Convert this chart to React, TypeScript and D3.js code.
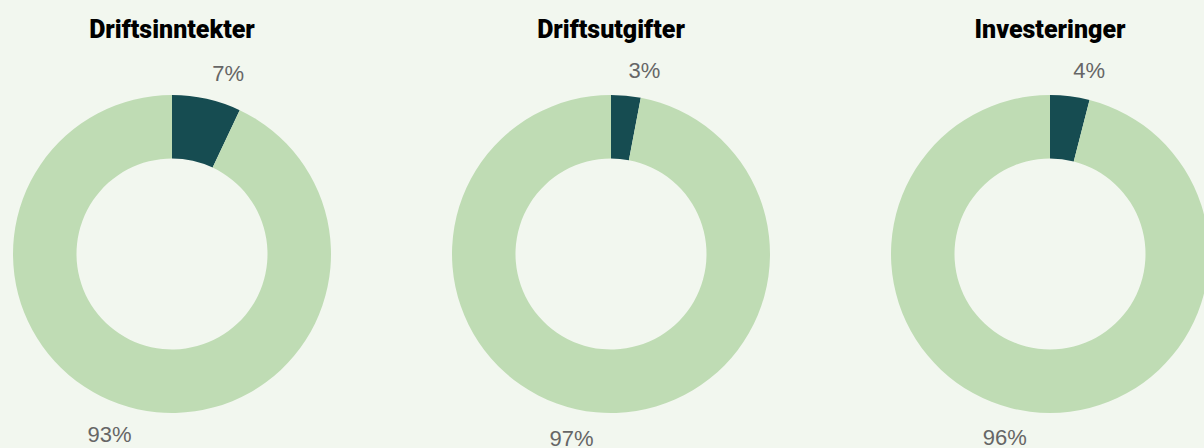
import React from 'react';
import * as d3 from 'd3';

const titles = ['Driftsinntekter', 'Driftsutgifter', 'Investeringer'];
const shares = [7, 3, 4];
const rest = [93, 97, 96];

const WIDTH = 1204;
const HEIGHT = 448;
const COLORS = ['#164c51', '#bfdcb4'];

const Donut: React.FC<{ title: string; values: number[]; cx: number }> = ({ title, values, cx }) => {
  const cy = 254;
  const outer = 159;
  const inner = 95.5;
  const pie = d3.pie<number>().sort(null).value(d => d);
  const arc = d3.arc<d3.PieArcDatum<number>>().innerRadius(inner).outerRadius(outer);
  // labels sit just outside the ring
  const labelArc = d3.arc<d3.PieArcDatum<number>>().innerRadius(185).outerRadius(185);
  const arcs = pie(values);

  return (
    <g transform={`translate(${cx},${cy})`}>
      <text
        x={0}
        y={-216}
        textAnchor="middle"
        fontFamily="Roboto, 'Liberation Sans', sans-serif"
        fontWeight={900}
        fontSize={25}
        fill="#000"
      >
        {title}
      </text>
      {arcs.map((a, i) => (
        <path key={i} d={arc(a) || ''} fill={COLORS[i]} />
      ))}
      {arcs.map((a, i) => {
        const [x, y] = labelArc.centroid(a);
        const mid = (a.startAngle + a.endAngle) / 2;
        return (
          <text
            key={'l' + i}
            x={x}
            y={y}
            dy="0.35em"
            textAnchor={mid < Math.PI ? 'start' : 'end'}
            fontFamily="'Liberation Sans', Arial, sans-serif"
            fontSize={22}
            fill="#666"
          >
            {a.data}%
          </text>
        );
      })}
    </g>
  );
};

export default function App() {
  const x = d3.scalePoint<string>().domain(titles).range([172, 1050]);
  return (
    <div style={{ position: 'absolute', left: 0, top: 0, width: WIDTH, height: HEIGHT, background: '#f2f7ef' }}>
      <svg width={WIDTH} height={HEIGHT} style={{ display: 'block' }}>
        {titles.map((t, i) => (
          <Donut key={t} title={t} values={[shares[i], rest[i]]} cx={x(t) as number} />
        ))}
      </svg>
    </div>
  );
}
